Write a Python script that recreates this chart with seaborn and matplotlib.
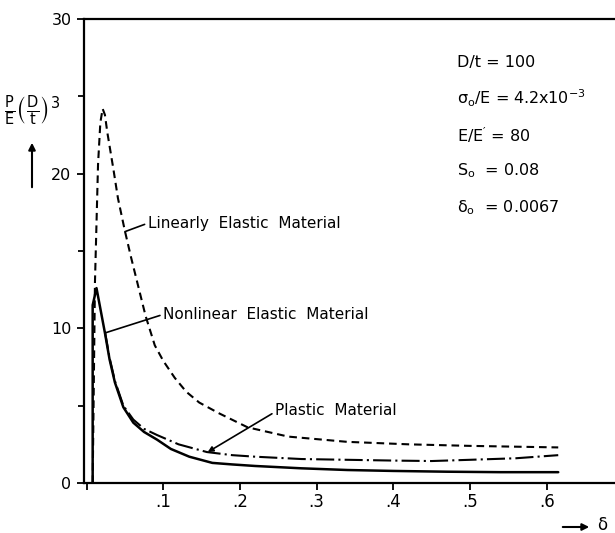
import matplotlib
matplotlib.use("Agg")
import matplotlib.pyplot as plt
import seaborn as sns

# curves: delta vs P/E (D/t)^3
lin_x = [0.008, 0.011, 0.015, 0.018, 0.021, 0.024, 0.027, 0.035, 0.041, 0.050, 0.058,
         0.066, 0.077, 0.089, 0.100, 0.115, 0.130, 0.147, 0.173, 0.21, 0.263, 0.34,
         0.42, 0.50, 0.615]
lin_y = [0.0, 13.0, 20.6, 23.3, 24.2, 23.8, 22.7, 20.3, 18.4, 16.3, 14.6,
         13.0, 10.8, 8.9, 7.9, 6.8, 5.9, 5.2, 4.5, 3.6, 3.0, 2.66,
         2.5, 2.4, 2.3]

nonlin_x = [0.008, 0.008, 0.013, 0.024, 0.030, 0.037, 0.048, 0.061, 0.075, 0.092,
            0.11, 0.134, 0.164, 0.19, 0.22, 0.28, 0.34, 0.40, 0.47, 0.54, 0.615]
nonlin_y = [0.0, 11.5, 12.6, 9.7, 8.0, 6.5, 4.9, 3.9, 3.3, 2.8,
            2.2, 1.7, 1.3, 1.2, 1.1, 0.95, 0.84, 0.78, 0.73, 0.70, 0.70]

plast_x = [0.024, 0.030, 0.037, 0.048, 0.061, 0.075, 0.092, 0.12, 0.157, 0.19,
           0.22, 0.28, 0.34, 0.40, 0.45, 0.50, 0.56, 0.615]
plast_y = [9.8, 8.1, 6.6, 5.0, 4.1, 3.5, 3.1, 2.5, 2.0, 1.8,
           1.7, 1.55, 1.5, 1.45, 1.42, 1.5, 1.6, 1.8]

x_ticks = [0, 0.1, 0.2, 0.3, 0.4, 0.5, 0.6]
x_ticklabels = ['', '.1', '.2', '.3', '.4', '.5', '.6']
y_ticks = [0, 10, 20, 30]
y_minor = [5, 15, 25]

params = [r"D/t = 100",
          r"$\sigma_o$/E = 4.2x10$^{-3}$",
          r"E/E$'$ = 80",
          r"S$_o$  = 0.08",
          r"$\delta_o$  = 0.0067"]
params_y = [63, 98, 135, 171, 208]   # pixel rows of the parameter block

sns.set_style("ticks")
plt.rcParams['font.family'] = ['DejaVu Sans']
plt.rcParams['mathtext.default'] = 'regular'
plt.rcParams['lines.scale_dashes'] = False
plt.rcParams['text.color'] = 'k'
plt.rcParams['xtick.color'] = 'k'
plt.rcParams['ytick.color'] = 'k'

W, H = 615, 533
fig = plt.figure(figsize=(W / 100, H / 100), dpi=100)
ax = fig.add_axes([84 / W, 50 / H, (W - 84) / W, (483 - 19) / H])

sns.lineplot(x=lin_x, y=lin_y, ax=ax, color='k', lw=1.5, sort=False,
             estimator=None, linestyle=(0, (5.5, 3.5)))
sns.lineplot(x=nonlin_x, y=nonlin_y, ax=ax, color='k', lw=1.8, sort=False,
             estimator=None)
sns.lineplot(x=plast_x, y=plast_y, ax=ax, color='k', lw=1.5, sort=False,
             estimator=None, linestyle=(0, (13, 3, 1.5, 3)))

ax.set_xlim(-0.0033, 0.689)
ax.set_ylim(0, 30)
ax.set_xticks(x_ticks)
ax.set_xticklabels(x_ticklabels)
ax.set_yticks(y_ticks)
ax.set_yticks(y_minor, minor=True)
ax.tick_params(axis='both', which='both', direction='out', width=1.3, color='k')
ax.tick_params(axis='both', which='major', length=5)
ax.tick_params(axis='both', which='minor', length=4)
ax.tick_params(axis='x', labelsize=12, pad=2, labelcolor='k')
ax.tick_params(axis='y', labelsize=11.5, pad=4, labelcolor='k')
for s in ['left', 'bottom', 'top']:
    ax.spines[s].set_linewidth(1.6)
    ax.spines[s].set_color('k')
ax.spines['right'].set_visible(False)

# curve labels with leader lines
lab_kw = dict(fontsize=11, ha='left', va='center', color='k')
ax.annotate('Linearly  Elastic  Material', xy=(0.050, 16.25), xytext=(0.080, 16.8),
            arrowprops=dict(arrowstyle='-', color='k', lw=1.2, relpos=(0, 0.5),
                            shrinkA=0, shrinkB=0), **lab_kw)
ax.annotate('Nonlinear  Elastic  Material', xy=(0.024, 9.7), xytext=(0.100, 10.9),
            arrowprops=dict(arrowstyle='-', color='k', lw=1.2, relpos=(0, 0.5),
                            shrinkA=0, shrinkB=0), **lab_kw)
ax.annotate('Plastic  Material', xy=(0.158, 2.0), xytext=(0.246, 4.7),
            arrowprops=dict(arrowstyle='-|>', color='k', lw=1.2, relpos=(0, 0.4),
                            shrinkA=0, shrinkB=0, mutation_scale=8), **lab_kw)

# parameter block
for txt, py in zip(params, params_y):
    fig.text(457 / W, 1 - py / H, txt, fontsize=11.5, ha='left', va='center')

# axis labels
fig.text(32 / W, 1 - 111 / H, r"$\frac{P}{E}\left(\frac{D}{t}\right)^3$",
         fontsize=15, ha='center', va='center')
ax.annotate('', xy=(32 / W, 1 - 140 / H), xytext=(32 / W, 1 - 190 / H),
            xycoords='figure fraction', textcoords='figure fraction',
            arrowprops=dict(arrowstyle='-|>', color='k', lw=1.5, mutation_scale=10))
ax.annotate('', xy=(592 / W, 1 - 527 / H), xytext=(560 / W, 1 - 527 / H),
            xycoords='figure fraction', textcoords='figure fraction',
            arrowprops=dict(arrowstyle='-|>', color='k', lw=1.5, mutation_scale=10))
fig.text(608 / W, 1 - 525 / H, r"$\delta$", fontsize=12, ha='right', va='center')

fig.savefig('out.png', dpi=100)
